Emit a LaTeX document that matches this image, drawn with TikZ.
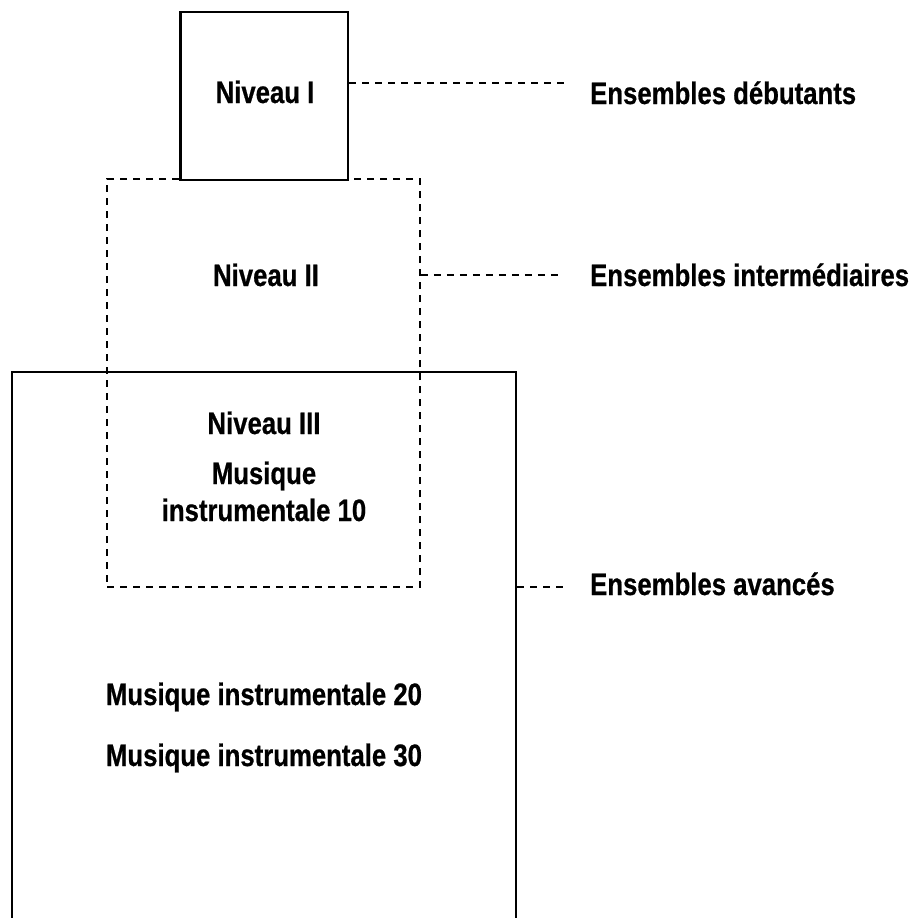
\documentclass[tikz,border=0pt]{standalone}
\usepackage{fontspec}
\setmainfont{Liberation Sans}[FakeStretch=0.83, FakeBold=0.6]
\begin{document}
\begin{tikzpicture}[x=1pt,y=-1pt,
  solidbox/.style={draw=black, line width=2.2pt, inner sep=0pt},
  dashbox/.style={draw=black, line width=1.8pt, dash pattern=on 7pt off 6pt, inner sep=0pt},
  dashline/.style={draw=black, line width=1.8pt, dash pattern=on 7pt off 6pt},
  txt/.style={font=\fontsize{31}{35}\selectfont\bfseries, inner sep=0pt, anchor=base},
  lbl/.style={font=\fontsize{31}{35}\selectfont\bfseries, inner sep=0pt, anchor=base west}]
\useasboundingbox (0,0) rectangle (921,918);
% boxes
\node[solidbox, minimum width=504pt, minimum height=560pt] (b3) at (264,652) {};
\node[dashbox, minimum width=313pt, minimum height=408pt] (b2) at (263.5,383) {};
\node[solidbox, fill=white, minimum width=167.5pt, minimum height=168pt] (b1) at (264.25,96) {};
% texts
\node[txt] (t1) at (265,103) {Niveau I};
\node[txt] (t2) at (266,286) {Niveau II};
\node[txt] (t3) at (264,434) {Niveau III};
\node[txt] (t4) at (264,484) {Musique};
\node[txt] (t5) at (264,521) {instrumentale 10};
\node[txt] (t6) at (264,705) {Musique instrumentale 20};
\node[txt] (t7) at (264,766) {Musique instrumentale 30};
% labels
\node[lbl] (l1) at (590,104) {Ensembles débutants};
\node[lbl] (l2) at (590,286) {Ensembles intermédiaires};
\node[lbl] (l3) at (590,595) {Ensembles avancés};
% connector ends
\coordinate (e1) at (565,83);
\coordinate (e2) at (563,275);
\coordinate (e3) at (563,587);
\draw[dashline] (b1.east |- e1) -- (e1);
\draw[dashline] (b2.east |- e2) -- (e2);
\draw[dashline] (b3.east |- e3) -- (e3);
\end{tikzpicture}
\end{document}
